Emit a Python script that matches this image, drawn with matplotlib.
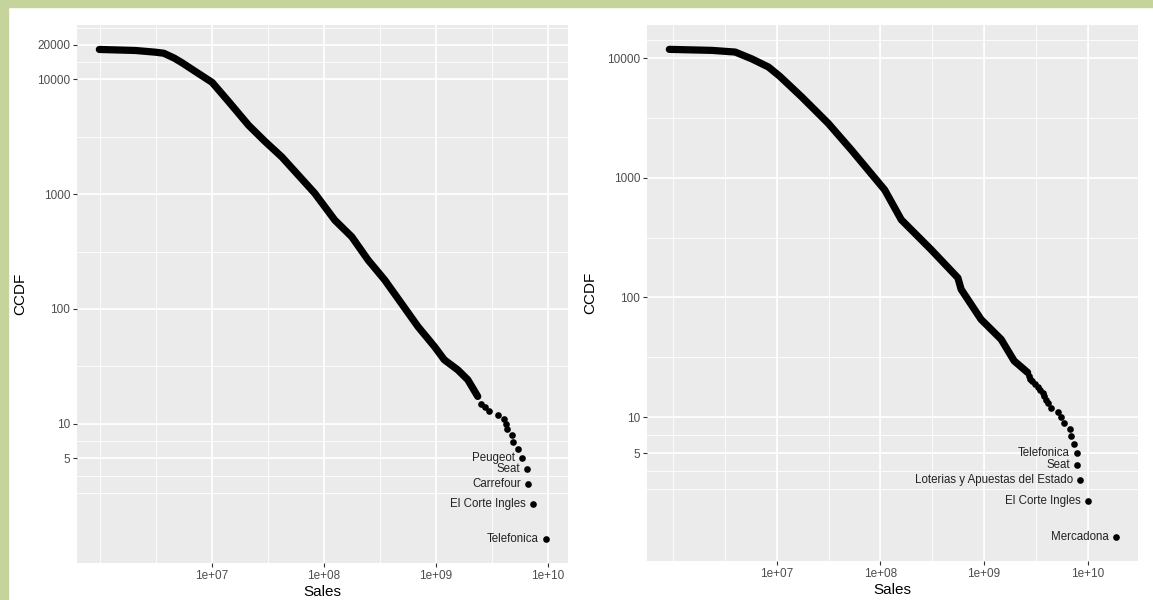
import numpy as np
import matplotlib
matplotlib.use("Agg")
import matplotlib.pyplot as plt
from matplotlib.patches import Rectangle

plt.rcParams['font.family'] = ['Liberation Sans', 'DejaVu Sans']

# ---- left panel: sales vs CCDF ----
left_body_sales = [9.8e5, 2.06e6, 3.10e6, 3.7e6, 4.6e6, 5.41e6, 7.06e6, 1.0e7,
                   1.45e7, 2.12e7, 2.96e7, 4.2e7, 8.26e7, 1.25e8, 1.77e8, 2.48e8,
                   3.49e8, 4.92e8, 6.93e8, 9.73e8, 1.19e9, 1.57e9, 1.93e9, 2.37e9]
left_body_ccdf = [18240, 17870, 17270, 16900, 15300, 13920, 11740, 9420,
                  6180, 3980, 2890, 2110, 1020, 594, 426, 267,
                  179, 112, 70.1, 47, 36.1, 29.5, 24.2, 17.3]
left_tail_sales = [9.6e9, 7.36e9, 6.65e9, 6.5e9, 5.87e9, 5.42e9, 4.89e9, 4.79e9,
                   4.32e9, 4.2e9, 4.06e9, 3.6e9, 2.99e9, 2.75e9, 2.54e9]
left_tail_ccdf = [1, 2, 3, 4, 5, 6, 7, 8, 9, 10, 11, 12, 13, 14, 15]
left_names = ["Telefonica", "El Corte Ingles", "Carrefour", "Seat", "Peugeot"]
left_ybreaks = [5, 10, 100, 1000, 10000, 20000]

# ---- right panel ----
right_body_sales = [9.2e5, 2.37e6, 3.97e6, 5.75e6, 8.32e6, 1.07e7, 1.74e7, 2.52e7,
                    3.14e7, 5.26e7, 1.1e8, 1.59e8, 3.09e8, 5.59e8, 6.01e8, 9.35e8,
                    1.46e9, 1.95e9, 2.63e9]
right_body_ccdf = [11890, 11660, 11290, 9900, 8460, 7080, 4760, 3460,
                   2860, 1710, 794, 447, 251, 146, 117, 65.6,
                   44.7, 29.5, 23.6]
right_tail_sales = [1.86e10, 1.0e10, 8.4e9, 7.9e9, 7.8e9, 7.33e9, 6.87e9, 6.72e9,
                    5.88e9, 5.5e9, 5.15e9, 4.4e9, 4.12e9, 3.94e9, 3.8e9, 3.68e9,
                    3.5e9, 3.3e9, 3.1e9, 2.9e9, 2.8e9, 2.7e9]
right_tail_ccdf = [1, 2, 3, 4, 5, 6, 7, 8, 9, 10, 11, 12, 13, 14, 15, 16, 17, 18,
                   19, 20, 21, 22]
right_names = ["Mercadona", "El Corte Ingles", "Loterias y Apuestas del Estado",
               "Seat", "Telefonica"]
right_ybreaks = [5, 10, 100, 1000, 10000]

xbreaks = [1e7, 1e8, 1e9, 1e10]
xlabels = ["1e+07", "1e+08", "1e+09", "1e+10"]

GREEN = "#c4d49a"
PANEL = "#ebebeb"


def expand(lo, hi, mult=0.05):
    d = (hi - lo) * mult
    return lo - d, hi + d


def minor_breaks(b, lims):
    # ggplot2 style minor breaks, in log10 space
    b = list(b)
    bd = b[1] - b[0]
    if lims[0] < b[0]:
        b = [b[0] - bd] + b
    if lims[1] > b[-1]:
        b = b + [b[-1] + bd]
    out = []
    for a, c in zip(b[:-1], b[1:]):
        out += [a, (a + c) / 2]
    out.append(b[-1])
    return [m for m in out if lims[0] <= m <= lims[1]]


def draw_panel(ax, bs, bc, ts, tc, names, ybreaks):
    all_s = np.log10(bs + ts)
    all_c = np.log10(bc + tc)
    xl = expand(all_s.min(), all_s.max())
    yl = expand(all_c.min(), all_c.max())

    ax.set_facecolor(PANEL)
    ax.set_xscale("log")
    ax.set_yscale("log")
    ax.set_xlim(10 ** xl[0], 10 ** xl[1])
    ax.set_ylim(10 ** yl[0], 10 ** yl[1])

    lx = np.log10(xbreaks)
    ly = np.log10(ybreaks)
    for m in minor_breaks(lx, xl):
        ax.axvline(10 ** m, color="white", lw=0.6, zorder=0)
    for m in minor_breaks(ly, yl):
        ax.axhline(10 ** m, color="white", lw=0.6, zorder=0)
    for v in xbreaks:
        ax.axvline(v, color="white", lw=1.2, zorder=0)
    for v in ybreaks:
        ax.axhline(v, color="white", lw=1.2, zorder=0)

    ax.plot(bs, bc, color="black", lw=5.2, solid_capstyle="round",
            solid_joinstyle="round", zorder=3)
    ax.plot(ts, tc, "o", color="black", ms=4.8, mew=0, zorder=3)

    for s, c, n in zip(ts[:5], tc[:5], names):
        ax.annotate(n, (s, c), xytext=(-5, 0), textcoords="offset points",
                    ha="right", va="center", fontsize=8.3, color="#222222")

    ax.xaxis.set_major_locator(matplotlib.ticker.FixedLocator(xbreaks))
    ax.xaxis.set_major_formatter(matplotlib.ticker.FixedFormatter(xlabels))
    ax.xaxis.set_minor_locator(matplotlib.ticker.NullLocator())
    ax.yaxis.set_major_locator(matplotlib.ticker.FixedLocator(ybreaks))
    ax.yaxis.set_major_formatter(
        matplotlib.ticker.FixedFormatter([str(v) for v in ybreaks]))
    ax.yaxis.set_minor_locator(matplotlib.ticker.NullLocator())
    ax.tick_params(length=3, width=0.8, color="#333333", labelcolor="#4d4d4d",
                   labelsize=8.5, pad=2)
    for sp in ax.spines.values():
        sp.set_visible(False)
    ax.set_xlabel("Sales", fontsize=11, labelpad=2)
    ax.set_ylabel("CCDF", fontsize=11, labelpad=7)


fig = plt.figure(figsize=(11.53, 6.0), dpi=100)
fig.patch.set_facecolor("white")
fig.patches.append(Rectangle((0, 1 - 7 / 600), 1, 7 / 600,
                             transform=fig.transFigure, color=GREEN, zorder=-1))
fig.patches.append(Rectangle((0, 0), 8 / 1153, 1,
                             transform=fig.transFigure, color=GREEN, zorder=-1))

ax1 = fig.add_axes([77 / 1153, 1 - 563 / 600, 491 / 1153, 538 / 600])
ax2 = fig.add_axes([647 / 1153, 1 - 561 / 600, 491 / 1153, 536 / 600])

draw_panel(ax1, left_body_sales, left_body_ccdf, left_tail_sales, left_tail_ccdf,
           left_names, left_ybreaks)
draw_panel(ax2, right_body_sales, right_body_ccdf, right_tail_sales,
           right_tail_ccdf, right_names, right_ybreaks)

fig.savefig("out.png", dpi=100)
